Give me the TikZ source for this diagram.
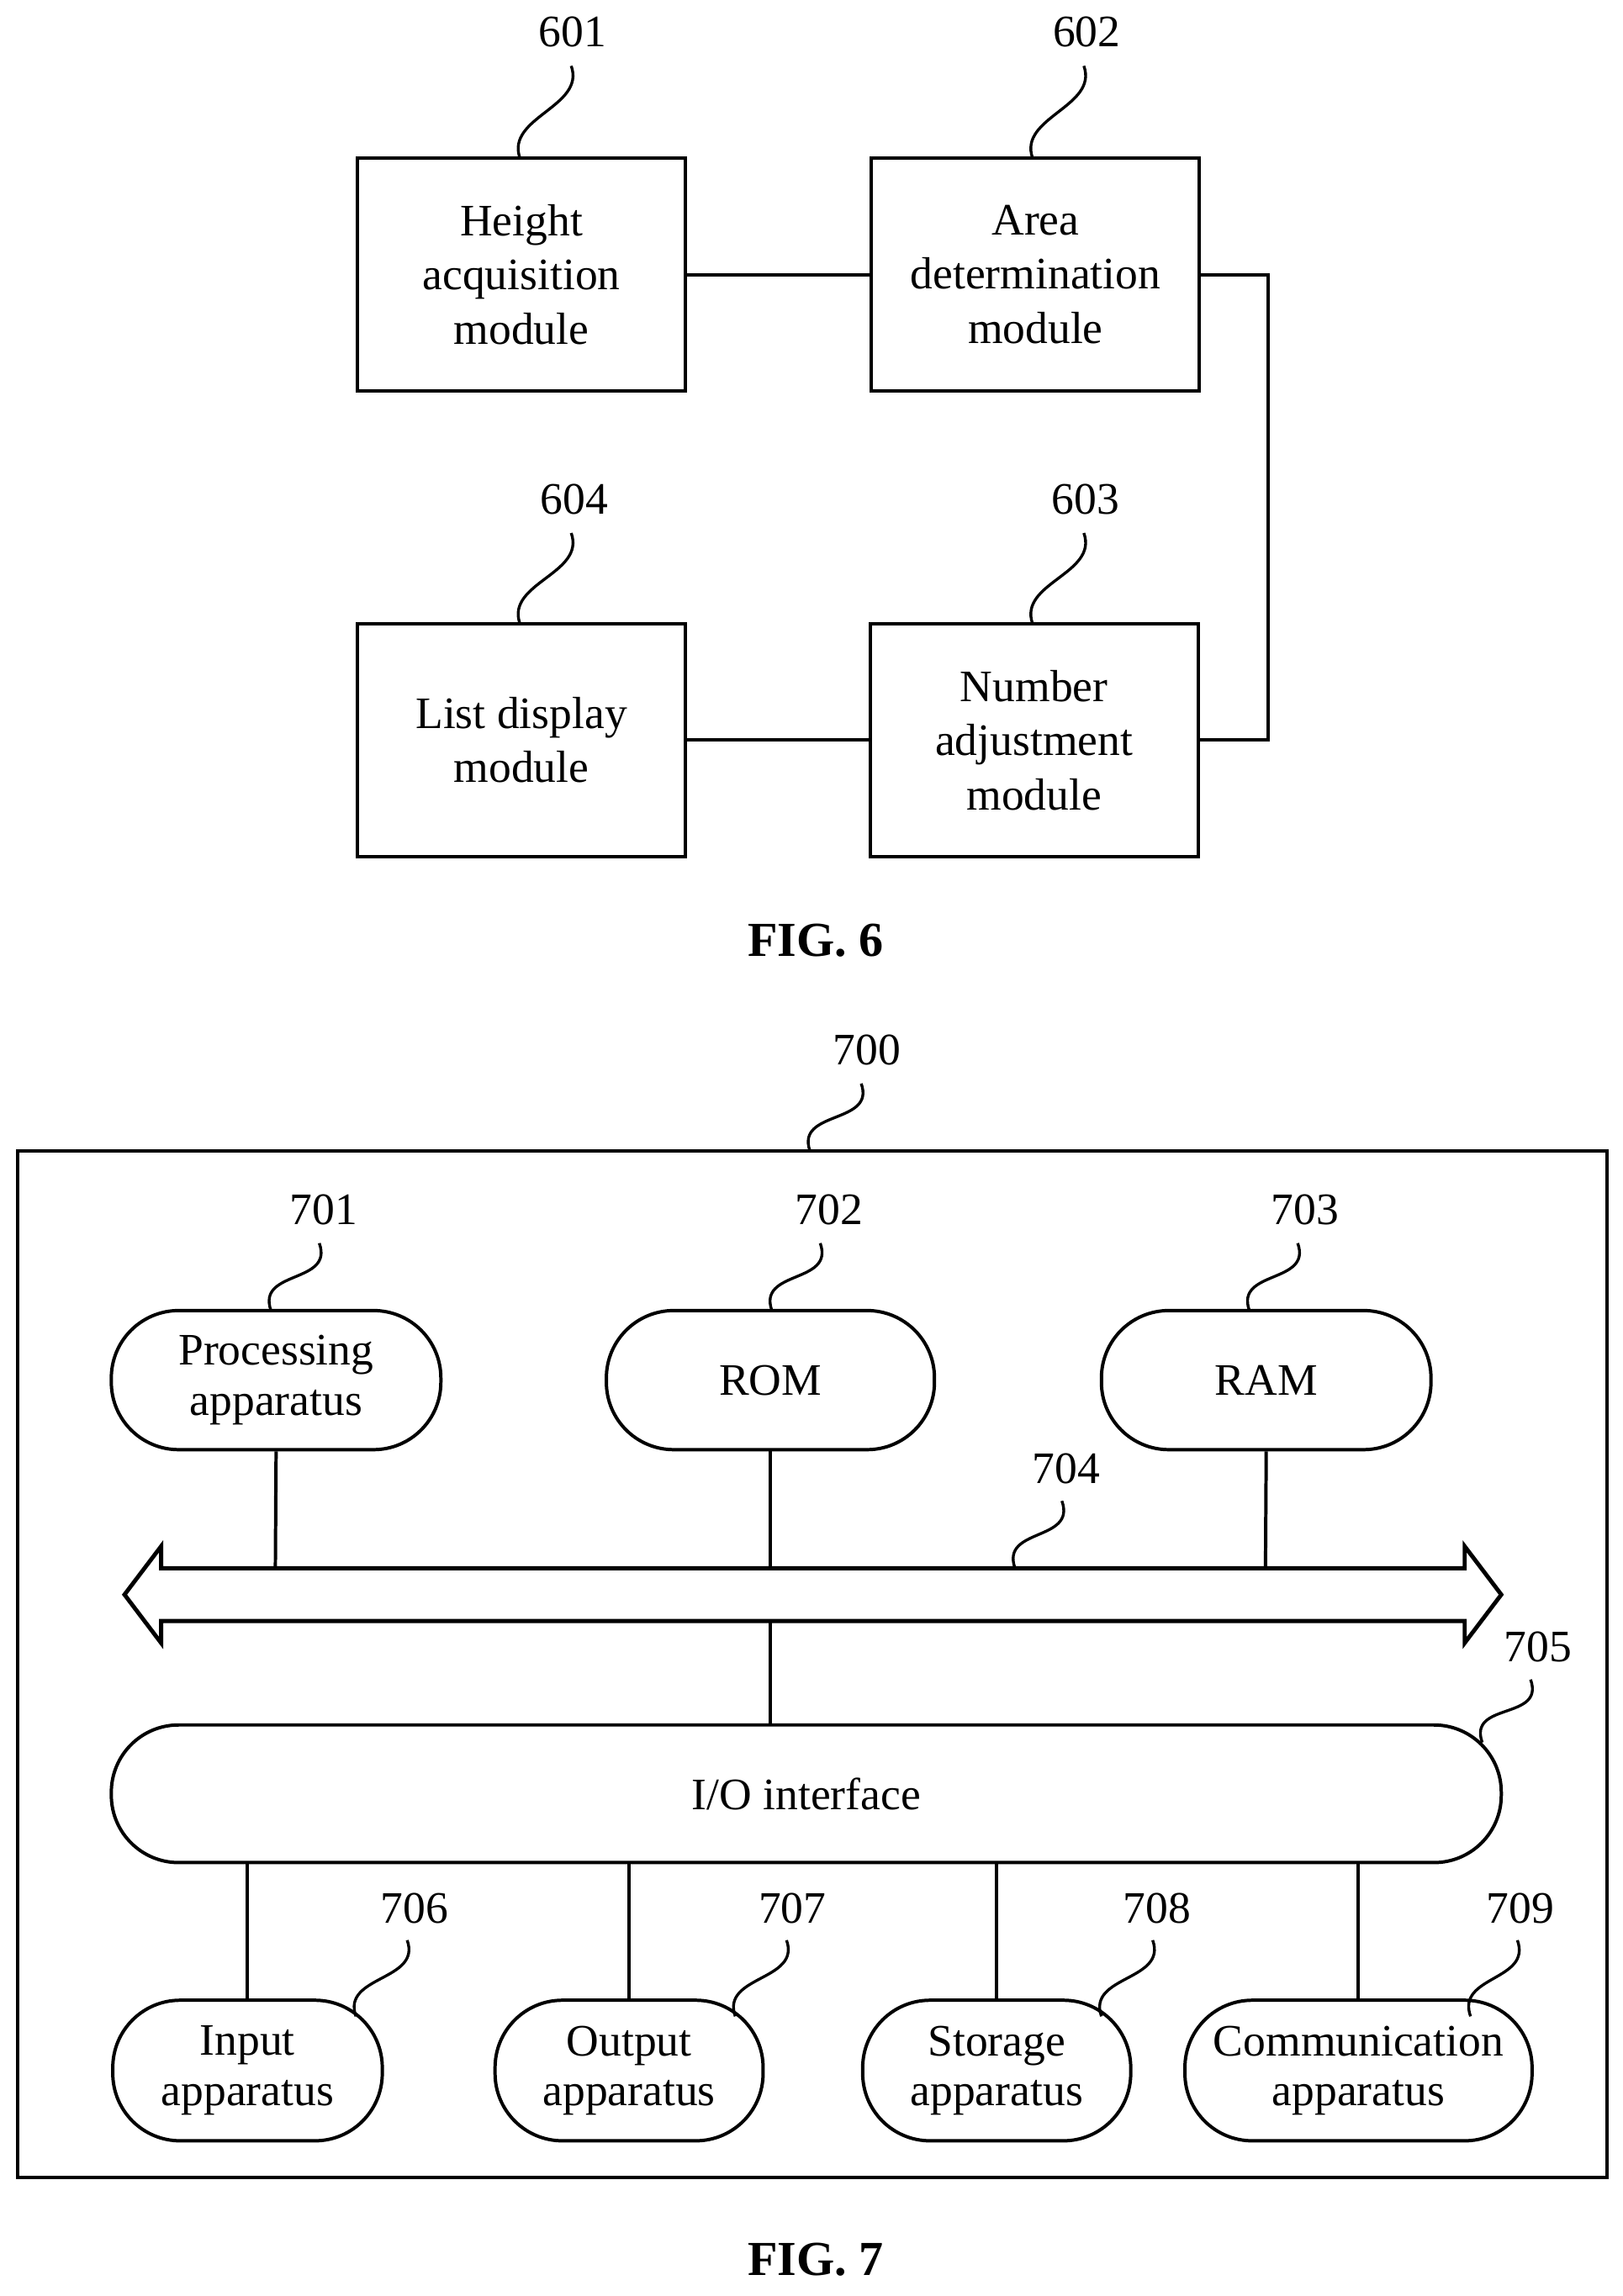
\documentclass[tikz,border=0pt]{standalone}
\usepackage{fontspec}
\setmainfont{Liberation Serif}
\usetikzlibrary{calc}
\begin{document}
\begin{tikzpicture}[x=0.02cm,y=-0.02cm,line width=1.3pt,
  box/.style={draw,minimum width=224*0.02cm,minimum height=159*0.02cm,align=center,font=\fontsize{17.5}{21}\selectfont},
  pill/.style={draw,rounded corners=46*0.02cm,minimum height=95*0.02cm,align=center,inner sep=0pt,font=\fontsize{17.5}{19.5}\selectfont},
  lab/.style={font=\fontsize{17.5}{19}\selectfont},
  sq/.style={line width=1.1pt}]
\useasboundingbox (0,0) rectangle (1108,1568);
\newcommand{\squig}[4]{\draw[sq] (#1,#2) .. controls ($(#1,#2)+(-10,-28)$) and ($(#3,#4)+(10,28)$) .. (#3,#4);}
% FIG 6
\node[box] (n601) at (356,187.5) {Height\\acquisition\\module};
\node[box] (n602) at (707,187.5) {Area\\determination\\module};
\node[box] (n604) at (356,505.5) {List display\\module};
\node[box] (n603) at (706,505.5) {Number\\adjustment\\module};
\coordinate (c1) at (866,187.5);
\coordinate (c2) at (866,505.5);
\draw (n601.east) -- (n602.west);
\draw (n602.east) -- (c1) -- (c2) -- (n603.east);
\draw (n604.east) -- (n603.west);
\node[lab] (l601) at (391,22) {601};
\node[lab] (l602) at (742,22) {602};
\node[lab] (l604) at (392,341) {604};
\node[lab] (l603) at (741,341) {603};
\squig{355}{108}{390}{45}
\squig{705}{108}{740}{45}
\squig{355}{426}{390}{364}
\squig{705}{426}{740}{364}
\node[font=\bfseries\fontsize{19}{22}\selectfont] (f6) at (557,642) {FIG. 6};
% FIG 7
\node[draw,minimum width=1085*0.02cm,minimum height=701*0.02cm] (n700) at (554.5,1136.5) {};
\node[lab] (l700) at (592,717) {700};
\squig{553}{786}{588}{740}
\node[pill,minimum width=225*0.02cm] (n701) at (188.5,942.5) {Processing\\apparatus};
\node[pill,minimum width=224*0.02cm] (n702) at (526,942.5) {ROM};
\node[pill,minimum width=225*0.02cm] (n703) at (864.5,942.5) {RAM};
\node[lab] (l701) at (221,826) {701};
\node[lab] (l702) at (566,826) {702};
\node[lab] (l703) at (891,826) {703};
\squig{185}{895}{218}{849}
\squig{527}{895}{560}{849}
\squig{853}{895}{886}{849}
% bus
\draw[line width=1.6pt] (85,1089) -- (110,1056) -- (110,1071) -- (1000,1071) -- (1000,1056) -- (1025,1089) -- (1000,1122) -- (1000,1107) -- (110,1107) -- (110,1122) -- cycle;
\coordinate (b1) at (188,1071);
\coordinate (b2) at (526,1071);
\coordinate (b3) at (864,1071);
\coordinate (b4) at (526,1107);
\draw (n701.south) -- (b1);
\draw (n702.south) -- (b2);
\draw (n703.south) -- (b3);
\node[lab] (l704) at (728,1003) {704};
\squig{693}{1071}{725}{1025}
\node[pill,minimum width=949*0.02cm,minimum height=94*0.02cm] (n705) at (550.5,1225) {I/O interface};
\draw (b4) -- (n705.north -| b4);
\node[lab] (l705) at (1050,1125) {705};
\squig{1012}{1190}{1045}{1147}
\node[pill,minimum width=184*0.02cm,minimum height=96*0.02cm] (n706) at (169,1414) {Input\\apparatus};
\node[pill,minimum width=183*0.02cm,minimum height=96*0.02cm] (n707) at (429.5,1414) {Output\\apparatus};
\node[pill,minimum width=183*0.02cm,minimum height=96*0.02cm] (n708) at (680.5,1414) {Storage\\apparatus};
\node[pill,minimum width=237*0.02cm,minimum height=96*0.02cm] (n709) at (927.5,1414) {Communication\\apparatus};
\foreach \n in {706,707,708,709} \draw (n\n.north |- n705.south) -- (n\n.north);
\node[lab] (l706) at (283,1303) {706};
\node[lab] (l707) at (541,1303) {707};
\node[lab] (l708) at (790,1303) {708};
\node[lab] (l709) at (1038,1303) {709};
\squig{243}{1377}{278}{1325}
\squig{502}{1377}{537}{1325}
\squig{752}{1377}{787}{1325}
\squig{1004}{1377}{1036}{1325}
\node[font=\bfseries\fontsize{19}{22}\selectfont] (f7) at (557,1543) {FIG. 7};
\end{tikzpicture}
\end{document}
